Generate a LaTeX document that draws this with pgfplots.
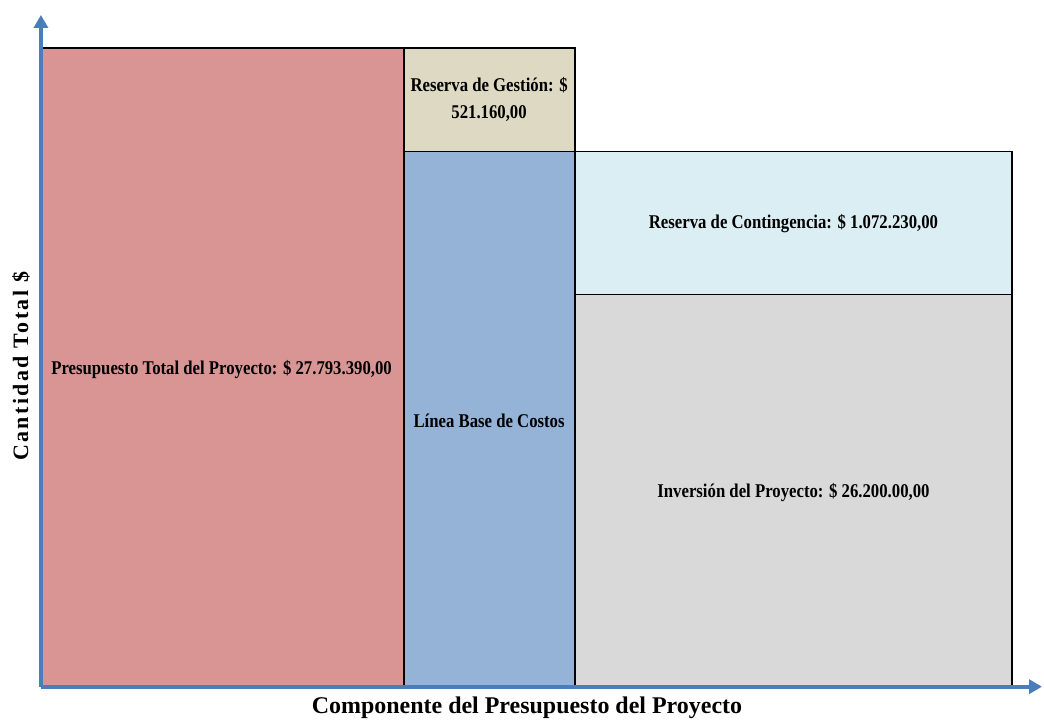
\documentclass[border=0pt]{standalone}
\usepackage{pgfplots}
\pgfplotsset{compat=1.18}
\usetikzlibrary{arrows.meta}
\usepackage{fontspec}
\setmainfont{Liberation Serif}
\newfontfamily\narrowbf[FakeStretch=0.86]{Liberation Serif}

\definecolor{totalred}{HTML}{D99594}
\definecolor{gestiontan}{HTML}{DDD9C3}
\definecolor{lineablue}{HTML}{95B3D7}
\definecolor{contlight}{HTML}{DBEEF3}
\definecolor{invgray}{HTML}{D9D9D9}
\definecolor{axisblue}{HTML}{4A7EBB}

\tikzset{boxlabel/.style={font=\narrowbf\fontsize{19.5bp}{27bp}\selectfont\bfseries, align=center, text=black}}

\begin{document}
\begin{tikzpicture}
\begin{axis}[
    x=1bp, y=1bp,
    xmin=0, xmax=1003,
    ymin=0, ymax=673,
    axis lines=left,
    axis line style={line width=4bp, axisblue, -{Triangle[length=13bp,width=14bp]}},
    ticks=none,
    axis on top=true,
    clip=false,
    every axis plot/.append style={draw=black, line width=1.5bp},
]
% bounding box of the whole figure
\path (axis cs:-41,-34) rectangle (axis cs:1003,688);

% Presupuesto total
\addplot[fill=totalred] coordinates {(0,0) (0,640) (364,640) (364,0)} -- cycle;
% Linea base de costos
\addplot[fill=lineablue] coordinates {(364,0) (364,536) (535,536) (535,0)} -- cycle;
% Reserva de gestion
\addplot[fill=gestiontan] coordinates {(364,536) (364,640) (535,640) (535,536)} -- cycle;
% Inversion del proyecto
\addplot[fill=invgray] coordinates {(535,0) (535,393) (973,393) (973,0)} -- cycle;
% Reserva de contingencia
\addplot[fill=contlight] coordinates {(535,393) (535,536) (973,536) (973,393)} -- cycle;

\node[boxlabel] at (axis cs:181,318) {Presupuesto Total del Proyecto: \$ 27.793.390,00};
\node[boxlabel] at (axis cs:449,588) {Reserva de Gestión: \$\\521.160,00};
\node[boxlabel] at (axis cs:449,266) {Línea Base de Costos};
\node[boxlabel] at (axis cs:754,464) {Reserva de Contingencia: \$ 1.072.230,00};
\node[boxlabel] at (axis cs:754,195) {Inversión del Proyecto: \$ 26.200.00,00};

\node[font=\fontsize{24bp}{28bp}\selectfont\bfseries] at (axis cs:487,-21)
    {Componente del Presupuesto del Proyecto};
\node[rotate=90, font=\addfontfeature{LetterSpace=11}\fontsize{22bp}{26bp}\selectfont\bfseries] at (axis cs:-20,321)
    {Cantidad Total \$};
\end{axis}
\end{tikzpicture}
\end{document}
